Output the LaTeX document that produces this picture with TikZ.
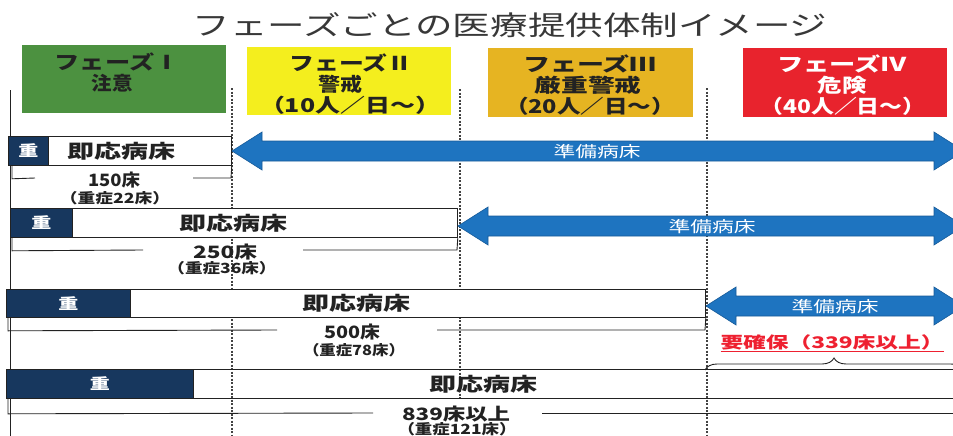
\documentclass[tikz,border=0pt]{standalone}
\usepackage{fontspec}
\setmainfont{Noto Sans CJK JP}
\usepackage{graphicx}
\usetikzlibrary{decorations.pathreplacing}
\newcommand{\fw}[2]{\resizebox{#1pt}{\height}{#2}}
\definecolor{phI}{HTML}{4C9140}
\definecolor{phII}{HTML}{F4EE1E}
\definecolor{phIII}{HTML}{E6B422}
\definecolor{phIV}{HTML}{E8232D}
\definecolor{navy}{HTML}{17375E}
\definecolor{arrowblue}{HTML}{1E74C0}
\definecolor{arrowedge}{HTML}{165A98}
\definecolor{ink}{HTML}{222222}
\definecolor{warnred}{HTML}{EE2030}
\begin{document}
\begin{tikzpicture}[x=1pt,y=-1pt,
  txt/.style={inner sep=0pt, text=ink},
  phtxt/.style={txt, font=\fontsize{19}{19}\selectfont\bfseries},
  rowtxt/.style={txt, font=\fontsize{19}{19}\selectfont\bfseries},
  juutxt/.style={inner sep=0pt, text=white, font=\fontsize{15}{15}\selectfont\bfseries},
  arrtxt/.style={inner sep=0pt, text=white, font=\fontsize{15.5}{15.5}\selectfont},
  bigl/.style={txt, font=\fontsize{17}{17}\selectfont\bfseries},
  smalll/.style={txt, font=\fontsize{14}{14}\selectfont\bfseries},
  phasebox/.style={draw=none, inner sep=0pt, anchor=north west},
  rowbox/.style={draw=ink, line width=0.8pt, inner sep=0pt, anchor=north west},
  darkcell/.style={fill=navy, draw=ink, line width=0.8pt, inner sep=0pt, anchor=north west},
  divider/.style={draw=ink!85, line width=1.3pt, dash pattern=on 2pt off 1.5pt},
  bracket/.style={draw=ink, line width=0.9pt},
  bluearrow/.style={fill=arrowblue, draw=arrowedge, line width=0.6pt}
]
\useasboundingbox (0,0) rectangle (953,436);
\clip (0,0) rectangle (953,436);

% title
\node[txt, text=ink!90, font=\fontsize{27}{27}\selectfont] (title) at (510,25) {\fw{635}{フェーズごとの医療提供体制イメージ}};

% phase boxes
\node[phasebox, fill=phI, minimum width=204pt, minimum height=68pt] (P1) at (22,45) {};
\node[phasebox, fill=phII, minimum width=204pt, minimum height=68pt] (P2) at (247,47) {};
\node[phasebox, fill=phIII, minimum width=205pt, minimum height=69pt] (P3) at (488,48) {};
\node[phasebox, fill=phIV, minimum width=204pt, minimum height=69pt] (P4) at (743,48) {};

\node[phtxt] (p1a) at (117,62) {\fw{125}{フェーズⅠ}};
\node[phtxt] (p1b) at (112,83) {\fw{41}{注意}};
\node[phtxt] (p2a) at (351,63) {\fw{123}{フェーズⅡ}};
\node[phtxt] (p2b) at (340,84) {\fw{44}{警戒}};
\node[phtxt] (p2c) at (350,105) {\fw{180}{（10人／日～）}};
\node[phtxt] (p3a) at (590,64) {\fw{134}{フェーズⅢ}};
\node[phtxt] (p3b) at (588,85) {\fw{107}{厳重警戒}};
\node[phtxt] (p3c) at (590,106) {\fw{170}{（20人／日～）}};
\node[phtxt, text=white] (p4a) at (842,64) {\fw{130}{フェーズⅣ}};
\node[phtxt, text=white] (p4b) at (842,85) {\fw{49}{危険}};
\node[phtxt, text=white] (p4c) at (843,106) {\fw{165}{（40人／日～）}};

% left axis and phase dividers
\coordinate (axT) at (10,90);
\coordinate (axB) at (10,436);
\draw[ink, line width=1pt] (axT) -- (axB);
\coordinate (d1T) at (232,88);
\coordinate (d1B) at (232,436);
\coordinate (d2T) at (460,89);
\coordinate (d2B) at (460,398);
\coordinate (d3T) at (707,88);
\coordinate (d3B) at (707,436);
\draw[divider] (d1T) -- (d1B);
\draw[divider] (d2T) -- (d2B);
\draw[divider] (d3T) -- (d3B);

% row boxes
\node[rowbox, fill=white, minimum width=223pt, minimum height=29pt] (r1) at (8,136) {};
\node[darkcell, minimum width=40pt, minimum height=29pt] (c1) at (8,136) {};
\node[rowbox, fill=white, minimum width=447pt, minimum height=29pt] (r2) at (10,208) {};
\node[darkcell, minimum width=62pt, minimum height=29pt] (c2) at (10,208) {};
\node[rowbox, fill=white, minimum width=699pt, minimum height=28pt] (r3) at (6,289) {};
\node[darkcell, minimum width=124pt, minimum height=28pt] (c3) at (6,289) {};
\node[rowbox, minimum width=960pt, minimum height=29pt] (r4) at (6,369) {};
\node[darkcell, minimum width=187pt, minimum height=29pt] (c4) at (6,369) {};

\node[juutxt] (j1) at (c1.center) {\fw{20}{重}};
\node[juutxt] (j2) at (c2.center) {\fw{20}{重}};
\node[juutxt] (j3) at (c3.center) {\fw{20}{重}};
\node[juutxt] (j4) at (c4.center) {\fw{20}{重}};

\node[rowtxt] (t1) at (121,151) {\fw{108}{即応病床}};
\node[rowtxt] (t2) at (233,223) {\fw{108}{即応病床}};
\node[rowtxt] (t3) at (356,303) {\fw{108}{即応病床}};
\node[rowtxt] (t4) at (483,384) {\fw{108}{即応病床}};

% blue double arrows
\newcommand{\dblarrow}[3]{%
  \filldraw[bluearrow] (#1,#3) -- ({#1+30},{#3-19}) -- ({#1+30},{#3-10}) -- ({#2-30},{#3-10}) -- ({#2-30},{#3-19}) -- (#2,#3) -- ({#2-30},{#3+19}) -- ({#2-30},{#3+10}) -- ({#1+30},{#3+10}) -- ({#1+30},{#3+19}) -- cycle;}
\dblarrow{232}{964}{151}
\dblarrow{458}{964}{226}
\dblarrow{706}{964}{306}
\node[arrtxt] (a1) at (597,152) {\fw{87}{準備病床}};
\node[arrtxt] (a2) at (712,227) {\fw{87}{準備病床}};
\node[arrtxt] (a3) at (835,307) {\fw{87}{準備病床}};

% brackets and bed counts
\node[bigl] (n1) at (114,180) {\fw{52}{150床}};
\node[smalll] (s1) at (115,198) {\fw{110}{（重症22床）}};
\node[bigl] (n2) at (225,252) {\fw{64}{250床}};
\node[smalll] (s2) at (222,268) {\fw{109}{（重症36床）}};
\node[bigl] (n3) at (352,332) {\fw{56}{500床}};
\node[smalll] (s3) at (354,350) {\fw{102}{（重症78床）}};
\node[bigl] (n4) at (456,414) {\fw{108}{839床以上}};
\node[smalll] (s4) at (457,429) {\fw{119}{（重症121床）}};

\draw[bracket] ([xshift=4pt]r1.south west) -- ++(0,13) -- (35,178);
\draw[bracket] (193,178) -- (231,178) -- (r1.south east);
\draw[bracket] ([xshift=2pt]r2.south west) -- ++(0,13) -- (143,250);
\draw[bracket] (303,250) -- (457,250) -- (r2.south east);
\draw[bracket] ([xshift=2pt]r3.south west) -- ++(0,13) -- (277,330);
\draw[bracket] (437,330) -- (705,330) -- (r3.south east);
\draw[bracket] ([xshift=2pt]r4.south west) -- ++(0,15) -- (373,413);
\coordinate (b4R) at (960,413);
\draw[bracket] (542,413) -- (b4R);

% required reserve
\node[inner sep=0pt, text=warnred, font=\fontsize{16}{16}\selectfont\bfseries] (req) at (832,343) {\underline{\fw{223}{要確保（339床以上）}}};
\coordinate (brL) at (705,370);
\coordinate (brR) at (963,370);
\draw[ink, line width=0.9pt, decorate, decoration={brace, amplitude=12pt}] (brL) -- (brR);
\end{tikzpicture}
\end{document}
